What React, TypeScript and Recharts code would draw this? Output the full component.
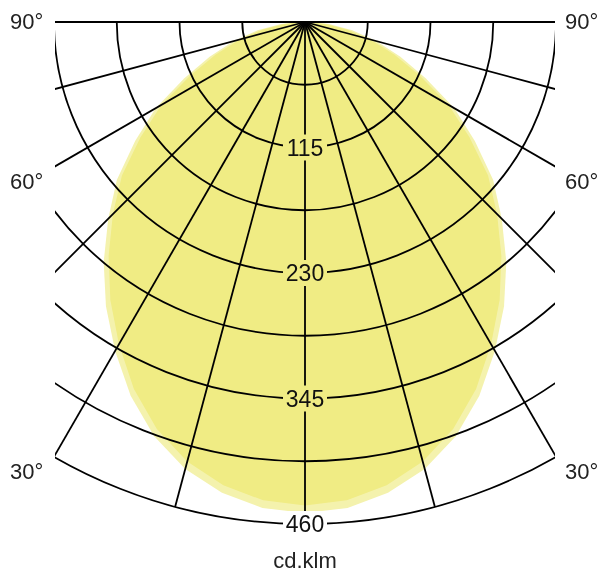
import { RadarChart, Radar, PolarGrid, PolarAngleAxis, PolarRadiusAxis } from "recharts";

// gamma angles, -90 (left) through 0 (down) to 90 (right)
const angles = [
  -90, -85, -80, -75, -70, -65, -60, -55, -50, -45, -40, -35, -30, -25, -20, -15, -10, -5,
  0, 5, 10, 15, 20, 25, 30, 35, 40, 45, 50, 55, 60, 65, 70, 75, 80, 85, 90,
];

// cd/klm, C0-C180 plane (outer, lighter)
const planeC0 = [
  4, 22, 44, 68, 93, 122, 158, 190, 225, 255, 287, 318, 348, 378, 404, 424, 438, 447,
  450, 447, 438, 424, 404, 378, 348, 318, 287, 255, 225, 190, 158, 122, 93, 68, 44, 22, 4,
];

// cd/klm, C90-C270 plane (inner, darker)
const planeC90 = [
  2, 18, 39, 62, 87, 116, 152, 184, 219, 249, 280, 311, 341, 371, 397, 417, 431, 440,
  443, 440, 431, 417, 397, 371, 341, 311, 280, 249, 219, 184, 152, 116, 87, 62, 39, 18, 2,
];

const radiusTicks = [0, 57.5, 115, 172.5, 230, 287.5, 345, 402.5, 460];
const labelledTicks = [115, 230, 345, 460];
const angleLabels = ["90°", "60°", "30°"];
const unitLabel = "cd.klm";

const data = angles.map((a, i) => ({ angle: a, c0: planeC0[i], c90: planeC90[i] }));

// both fills are multiplied so the grid (drawn underneath) still shows through;
// outer × inner gives the darker core colour
const FILL_OUTER = "#f4f2ad";
const FILL_INNER = "#fbf9c3";
const CORE = "#f0ec84";
const INK = "#000";

function RadiusTick(props: any) {
  const { x, y, payload } = props;
  const v = payload?.value;
  if (!labelledTicks.includes(v)) return null;
  const bg = v === 460 ? "#ffffff" : CORE;
  return (
    <g>
      <rect x={x - 22} y={y - 13} width={44} height={26} fill={bg} />
      <text
        x={x}
        y={y + 8}
        textAnchor="middle"
        fontSize={23}
        fill="#111"
        fontFamily="Liberation Sans, Arial, sans-serif"
      >
        {v}
      </text>
    </g>
  );
}

export default function App() {
  return (
    <div
      style={{
        position: "absolute",
        left: 0,
        top: 0,
        width: 610,
        height: 579,
        background: "#fff",
        fontFamily: "Liberation Sans, Arial, sans-serif",
      }}
    >
      <div style={{ position: "absolute", left: 55, top: 21 }}>
        <RadarChart
          width={500}
          height={520}
          data={data}
          cx={250}
          cy={1}
          innerRadius={0}
          outerRadius={502}
          startAngle={180}
          endAngle={360}
          margin={{ top: 0, right: 0, bottom: 0, left: 0 }}
        >
          <Radar
            dataKey="c0"
            fill={FILL_OUTER}
            fillOpacity={1}
            stroke="none"
            isAnimationActive={false}
            style={{ mixBlendMode: "multiply" }}
          />
          <Radar
            dataKey="c90"
            fill={FILL_INNER}
            fillOpacity={1}
            stroke="none"
            isAnimationActive={false}
            style={{ mixBlendMode: "multiply" }}
          />
          <PolarGrid gridType="circle" stroke={INK} strokeWidth={1.8} />
          <PolarAngleAxis
            dataKey="angle"
            type="number"
            domain={[-90, 90]}
            tickCount={13}
            tick={false}
            axisLine={false}
            tickLine={false}
          />
          <PolarRadiusAxis
            angle={-90}
            domain={[0, 460]}
            ticks={radiusTicks as any}
            axisLine={false}
            tickLine={false}
            tick={<RadiusTick />}
          />
        </RadarChart>
      </div>
      <svg
        width={610}
        height={579}
        style={{ position: "absolute", left: 0, top: 0, pointerEvents: "none" }}
      >
        <g fontSize={22} fill="#222">
          <text x={10} y={29}>{angleLabels[0]}</text>
          <text x={10} y={189}>{angleLabels[1]}</text>
          <text x={10} y={479}>{angleLabels[2]}</text>
          <text x={565} y={29}>{angleLabels[0]}</text>
          <text x={565} y={189}>{angleLabels[1]}</text>
          <text x={565} y={479}>{angleLabels[2]}</text>
          <text x={305} y={568} textAnchor="middle" fontSize={22}>
            {unitLabel}
          </text>
        </g>
      </svg>
    </div>
  );
}
